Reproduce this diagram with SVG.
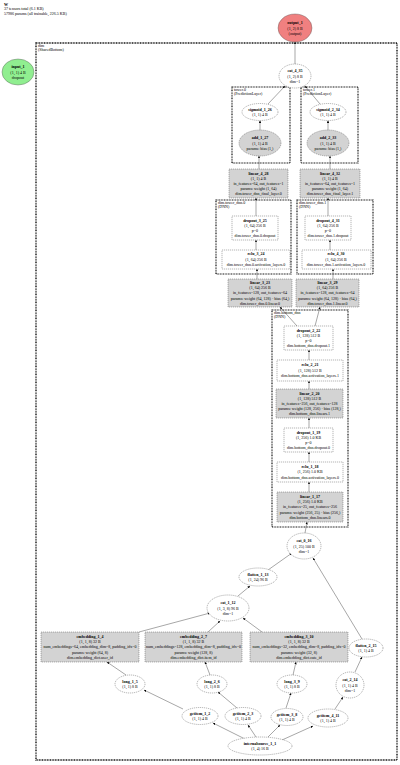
<svg xmlns="http://www.w3.org/2000/svg" width="400" height="765" viewBox="0 0 400 765">
<defs>
<marker id="ah" viewBox="0 0 4 4" refX="4" refY="2" markerWidth="2.4" markerHeight="2.4" markerUnits="userSpaceOnUse" orient="auto"><path d="M0,0 L4,2 L0,4 z" fill="#000"/></marker>
<style>
text{font-family:"Liberation Serif","Times New Roman",serif;font-size:4px;fill:#000}
.m{text-anchor:middle}
.b{font-weight:bold}
.e{fill:#fff;stroke:#444;stroke-width:0.4;stroke-dasharray:1.2,0.8}
.g{fill:#d3d3d3;stroke:#444;stroke-width:0.4;stroke-dasharray:1.2,0.8}
.d{fill:#fff;stroke:#444;stroke-width:0.4;stroke-dasharray:1.2,0.8}
.c{fill:none;stroke:#000;stroke-width:1.1;stroke-dasharray:0.9,0.7}
.co{fill:none;stroke:#000;stroke-width:1.3;stroke-dasharray:0.9,0.7}
#edges line{stroke:#000;stroke-width:0.35;marker-end:url(#ah)}
</style>
</defs>
<rect width="400" height="765" fill="#fff"/>
<g id="header">
<text x="4" y="5.5" class="b">W</text>
<text x="4" y="10">37 tensors total (6.1 KB)</text>
<text x="4" y="14.5">57986 params (all trainable, 226.5 KB)</text>
</g>
<g id="clusters">
<rect class="co" x="36" y="43" width="361" height="717"/>
<text x="38" y="47">dim</text><text x="38" y="51">(SharedBottom)</text>
<rect class="c" x="232" y="87" width="58" height="76"/>
<text x="234" y="91">tower.0</text><text x="234" y="95">(PredictionLayer)</text>
<rect class="c" x="301" y="87" width="57" height="76"/>
<text x="303" y="91">tower.1</text><text x="303" y="95">(PredictionLayer)</text>
<rect class="c" x="216" y="200" width="75" height="74"/>
<text x="218" y="204">dim.tower_dnn.0</text><text x="218" y="208">(DNN)</text>
<rect class="c" x="297" y="200" width="76" height="74"/>
<text x="299" y="204">dim.tower_dnn.1</text><text x="299" y="208">(DNN)</text>
<rect class="c" x="272" y="310" width="76" height="217"/>
<text x="274" y="314">dim.bottom_dnn</text><text x="274" y="318">(DNN)</text>
</g>
<g id="edges">
<line x1="295" y1="64" x2="295" y2="42"/>
<line x1="268" y1="104" x2="285" y2="86"/>
<line x1="320" y1="104" x2="305" y2="86"/>
<line x1="260" y1="130" x2="260" y2="120.5"/>
<line x1="328" y1="130" x2="328" y2="120.5"/>
<line x1="259" y1="169" x2="259" y2="156"/>
<line x1="330" y1="169" x2="330" y2="156"/>
<line x1="256" y1="216" x2="256" y2="198"/>
<line x1="328" y1="216" x2="328" y2="198"/>
<line x1="256" y1="250" x2="256" y2="240"/>
<line x1="330" y1="250" x2="330" y2="240"/>
<line x1="257" y1="279" x2="257" y2="269"/>
<line x1="333" y1="279" x2="333" y2="269"/>
<line x1="297" y1="326" x2="280" y2="307"/>
<line x1="315" y1="326" x2="320" y2="307"/>
<line x1="309" y1="360" x2="309" y2="350"/>
<line x1="309" y1="389" x2="309" y2="381"/>
<line x1="309" y1="428" x2="309" y2="418"/>
<line x1="309" y1="462" x2="309" y2="452"/>
<line x1="309" y1="492" x2="309" y2="482"/>
<line x1="305" y1="533" x2="307" y2="522"/>
<line x1="268" y1="570" x2="292" y2="553"/>
<line x1="362" y1="639" x2="313" y2="558"/>
<line x1="238" y1="596" x2="250" y2="586"/>
<line x1="139" y1="632" x2="210" y2="613"/>
<line x1="208" y1="632" x2="220" y2="621"/>
<line x1="262" y1="632" x2="243" y2="618"/>
<line x1="126" y1="675" x2="107" y2="662"/>
<line x1="210" y1="675" x2="205" y2="662"/>
<line x1="293" y1="675" x2="296" y2="662"/>
<line x1="183" y1="709" x2="144" y2="690"/>
<line x1="237" y1="708" x2="218" y2="692"/>
<line x1="286" y1="708" x2="291" y2="693"/>
<line x1="335" y1="709" x2="343" y2="697"/>
<line x1="355" y1="672" x2="362" y2="657"/>
<line x1="245" y1="739" x2="213" y2="723"/>
<line x1="256" y1="737" x2="248" y2="725"/>
<line x1="268" y1="737" x2="280" y2="725"/>
<line x1="282" y1="740" x2="313" y2="726"/>
</g>
<g id="input_1">
<ellipse cx="18" cy="72" rx="16" ry="13" fill="#90ee90" stroke="#555" stroke-width="0.4"/>
<text class="m b" x="18" y="68">input_1</text><text class="m" x="18" y="73.5">(1, 1) 4 B</text><text class="m" x="18" y="79">dropout</text>
</g>
<g id="output_1">
<ellipse cx="295" cy="28" rx="17" ry="14" fill="#f08080" stroke="#555" stroke-width="0.4"/>
<text class="m b" x="295" y="24">output_1</text><text class="m" x="295" y="29.5">(1, 2) 8 B</text><text class="m" x="295" y="35">(output)</text>
</g>
<g id="cat_4_35">
<ellipse class="e" cx="295" cy="76" rx="16" ry="12"/>
<text class="m b" x="295" y="72">cat_4_35</text><text class="m" x="295" y="77.5">(1, 2) 8 B</text><text class="m" x="295" y="83">dim=1</text>
</g>
<g id="sigmoid_1_26">
<ellipse class="e" cx="260" cy="112" rx="18" ry="8.5"/>
<text class="m b" x="260" y="110.7">sigmoid_1_26</text><text class="m" x="260" y="116.2">(1, 1) 4 B</text>
</g>
<g id="sigmoid_2_34">
<ellipse class="e" cx="328" cy="112" rx="18" ry="8.5"/>
<text class="m b" x="328" y="110.7">sigmoid_2_34</text><text class="m" x="328" y="116.2">(1, 1) 4 B</text>
</g>
<g id="add_1_27">
<ellipse class="g" cx="260" cy="143" rx="21" ry="13"/>
<text class="m b" x="260" y="139">add_1_27</text><text class="m" x="260" y="144.5">(1, 1) 4 B</text><text class="m" x="260" y="150">params: bias (1,)</text>
</g>
<g id="add_2_33">
<ellipse class="g" cx="328" cy="143" rx="21" ry="13"/>
<text class="m b" x="328" y="139">add_2_33</text><text class="m" x="328" y="144.5">(1, 1) 4 B</text><text class="m" x="328" y="150">params: bias (1,)</text>
</g>
<g id="linear_4_28">
<rect class="g" x="229" y="169" width="59" height="29"/>
<text class="m b" x="258.5" y="174.5">linear_4_28</text><text class="m" x="258.5" y="179.7">(1, 1) 4 B</text><text class="m" x="258.5" y="184.9">in_features=64, out_features=1</text><text class="m" x="258.5" y="190.1">params: weight (1, 64)</text><text class="m" x="258.5" y="195.3">dim.tower_dnn_final_layer.0</text>
</g>
<g id="linear_4_32">
<rect class="g" x="300" y="169" width="60" height="29"/>
<text class="m b" x="330" y="174.5">linear_4_32</text><text class="m" x="330" y="179.7">(1, 1) 4 B</text><text class="m" x="330" y="184.9">in_features=64, out_features=1</text><text class="m" x="330" y="190.1">params: weight (1, 64)</text><text class="m" x="330" y="195.3">dim.tower_dnn_final_layer.1</text>
</g>
<g id="dropout_3_25">
<rect class="d" x="232" y="216" width="46" height="24"/>
<text class="m b" x="255" y="221.9">dropout_3_25</text><text class="m" x="255" y="226.9">(1, 64) 256 B</text><text class="m" x="255" y="231.9">p=0</text><text class="m" x="255" y="236.9">dim.tower_dnn.0.dropout</text>
</g>
<g id="dropout_4_31">
<rect class="d" x="305" y="216" width="46" height="24"/>
<text class="m b" x="328" y="221.9">dropout_4_31</text><text class="m" x="328" y="226.9">(1, 64) 256 B</text><text class="m" x="328" y="231.9">p=0</text><text class="m" x="328" y="236.9">dim.tower_dnn.1.dropout</text>
</g>
<g id="relu_3_24">
<rect class="d" x="222" y="250" width="68" height="19"/>
<text class="m b" x="256" y="255.4">relu_3_24</text><text class="m" x="256" y="260.9">(1, 64) 256 B</text><text class="m" x="256" y="266.4">dim.tower_dnn.0.activation_layers.0</text>
</g>
<g id="relu_4_30">
<rect class="d" x="302" y="250" width="69" height="19"/>
<text class="m b" x="336" y="255.4">relu_4_30</text><text class="m" x="336" y="260.9">(1, 64) 256 B</text><text class="m" x="336" y="266.4">dim.tower_dnn.1.activation_layers.0</text>
</g>
<g id="linear_3_23">
<rect class="g" x="228" y="279" width="64" height="28"/>
<text class="m b" x="260" y="284">linear_3_23</text><text class="m" x="260" y="289.2">(1, 64) 256 B</text><text class="m" x="260" y="294.4">in_features=128, out_features=64</text><text class="m" x="260" y="299.6">params: weight (64, 128) · bias (64,)</text><text class="m" x="260" y="304.8">dim.tower_dnn.0.linear.0</text>
</g>
<g id="linear_3_29">
<rect class="g" x="296" y="279" width="63" height="28"/>
<text class="m b" x="327.5" y="284">linear_3_29</text><text class="m" x="327.5" y="289.2">(1, 64) 256 B</text><text class="m" x="327.5" y="294.4">in_features=128, out_features=64</text><text class="m" x="327.5" y="299.6">params: weight (64, 128) · bias (64,)</text><text class="m" x="327.5" y="304.8">dim.tower_dnn.1.linear.0</text>
</g>
<g id="dropout_2_22">
<rect class="d" x="284" y="326" width="49" height="24"/>
<text class="m b" x="308.5" y="331.9">dropout_2_22</text><text class="m" x="308.5" y="336.9">(1, 128) 512 B</text><text class="m" x="308.5" y="341.9">p=0</text><text class="m" x="308.5" y="346.9">dim.bottom_dnn.dropout.1</text>
</g>
<g id="relu_2_21">
<rect class="d" x="277" y="360" width="66" height="21"/>
<text class="m b" x="310" y="366.4">relu_2_21</text><text class="m" x="310" y="371.9">(1, 128) 512 B</text><text class="m" x="310" y="377.4">dim.bottom_dnn.activation_layers.1</text>
</g>
<g id="linear_2_20">
<rect class="g" x="276" y="389" width="67" height="29"/>
<text class="m b" x="309.5" y="394.5">linear_2_20</text><text class="m" x="309.5" y="399.7">(1, 128) 512 B</text><text class="m" x="309.5" y="404.9">in_features=256, out_features=128</text><text class="m" x="309.5" y="410.1">params: weight (128, 256) · bias (128,)</text><text class="m" x="309.5" y="415.3">dim.bottom_dnn.linears.1</text>
</g>
<g id="dropout_1_19">
<rect class="d" x="284" y="428" width="49" height="24"/>
<text class="m b" x="308.5" y="433.9">dropout_1_19</text><text class="m" x="308.5" y="438.9">(1, 256) 1.0 KB</text><text class="m" x="308.5" y="443.9">p=0</text><text class="m" x="308.5" y="448.9">dim.bottom_dnn.dropout.0</text>
</g>
<g id="relu_1_18">
<rect class="d" x="277" y="462" width="66" height="20"/>
<text class="m b" x="310" y="467.9">relu_1_18</text><text class="m" x="310" y="473.4">(1, 256) 1.0 KB</text><text class="m" x="310" y="478.9">dim.bottom_dnn.activation_layers.0</text>
</g>
<g id="linear_1_17">
<rect class="g" x="277" y="492" width="66" height="30"/>
<text class="m b" x="310" y="498">linear_1_17</text><text class="m" x="310" y="503.2">(1, 256) 1.0 KB</text><text class="m" x="310" y="508.4">in_features=25, out_features=256</text><text class="m" x="310" y="513.6">params: weight (256, 25) · bias (256,)</text><text class="m" x="310" y="518.8">dim.bottom_dnn.linears.0</text>
</g>
<g id="cat_0_16">
<ellipse class="e" cx="304" cy="546" rx="17" ry="13"/>
<text class="m b" x="304" y="542">cat_0_16</text><text class="m" x="304" y="547.5">(1, 25) 100 B</text><text class="m" x="304" y="553">dim=1</text>
</g>
<g id="flatten_1_13">
<ellipse class="e" cx="258" cy="577" rx="19" ry="9"/>
<text class="m b" x="258" y="575.7">flatten_1_13</text><text class="m" x="258" y="581.2">(1, 24) 96 B</text>
</g>
<g id="cat_1_12">
<ellipse class="e" cx="228" cy="608" rx="21" ry="13"/>
<text class="m b" x="228" y="604">cat_1_12</text><text class="m" x="228" y="609.5">(1, 3, 8) 96 B</text><text class="m" x="228" y="615">dim=1</text>
</g>
<g id="flatten_2_15">
<ellipse class="e" cx="366" cy="648" rx="17" ry="9"/>
<text class="m b" x="366" y="646.7">flatten_2_15</text><text class="m" x="366" y="652.2">(1, 1) 4 B</text>
</g>
<g id="cat_2_14">
<ellipse class="e" cx="350" cy="685" rx="14" ry="13"/>
<text class="m b" x="350" y="681">cat_2_14</text><text class="m" x="350" y="686.5">(1, 1) 4 B</text><text class="m" x="350" y="692">dim=1</text>
</g>
<g id="embedding_1_4">
<rect class="g" x="41" y="632" width="98" height="30"/>
<text class="m b" x="90" y="638">embedding_1_4</text><text class="m" x="90" y="643.2">(1, 1, 8) 32 B</text><text class="m" x="90" y="648.4">num_embeddings=64, embedding_dim=8, padding_idx=0</text><text class="m" x="90" y="653.6">params: weight (64, 8)</text><text class="m" x="90" y="658.8">dim.embedding_dict.user_id</text>
</g>
<g id="embedding_2_7">
<rect class="g" x="145" y="632" width="97" height="30"/>
<text class="m b" x="193.5" y="638">embedding_2_7</text><text class="m" x="193.5" y="643.2">(1, 1, 8) 32 B</text><text class="m" x="193.5" y="648.4">num_embeddings=128, embedding_dim=8, padding_idx=0</text><text class="m" x="193.5" y="653.6">params: weight (128, 8)</text><text class="m" x="193.5" y="658.8">dim.embedding_dict.item_id</text>
</g>
<g id="embedding_3_10">
<rect class="g" x="250" y="632" width="98" height="30"/>
<text class="m b" x="299" y="638">embedding_3_10</text><text class="m" x="299" y="643.2">(1, 1, 8) 32 B</text><text class="m" x="299" y="648.4">num_embeddings=32, embedding_dim=8, padding_idx=0</text><text class="m" x="299" y="653.6">params: weight (32, 8)</text><text class="m" x="299" y="658.8">dim.embedding_dict.cate_id</text>
</g>
<g id="long_1_5">
<ellipse class="e" cx="130" cy="684" rx="15" ry="9"/>
<text class="m b" x="130" y="682.7">long_1_5</text><text class="m" x="130" y="688.2">(1, 1) 8 B</text>
</g>
<g id="long_2_6">
<ellipse class="e" cx="212" cy="684" rx="15" ry="9"/>
<text class="m b" x="212" y="682.7">long_2_6</text><text class="m" x="212" y="688.2">(1, 1) 8 B</text>
</g>
<g id="long_3_9">
<ellipse class="e" cx="292" cy="684" rx="15" ry="9"/>
<text class="m b" x="292" y="682.7">long_3_9</text><text class="m" x="292" y="688.2">(1, 1) 8 B</text>
</g>
<g id="getitem_1_2">
<ellipse class="e" cx="200" cy="716" rx="18" ry="8.5"/>
<text class="m b" x="200" y="714.7">getitem_1_2</text><text class="m" x="200" y="720.2">(1, 1) 4 B</text>
</g>
<g id="getitem_2_3">
<ellipse class="e" cx="243" cy="716" rx="18" ry="8.5"/>
<text class="m b" x="243" y="714.7">getitem_2_3</text><text class="m" x="243" y="720.2">(1, 1) 4 B</text>
</g>
<g id="getitem_3_8">
<ellipse class="e" cx="287" cy="717" rx="16" ry="8.5"/>
<text class="m b" x="287" y="715.7">getitem_3_8</text><text class="m" x="287" y="721.2">(1, 1) 4 B</text>
</g>
<g id="getitem_4_11">
<ellipse class="e" cx="328" cy="718" rx="20" ry="9"/>
<text class="m b" x="328" y="716.7">getitem_4_11</text><text class="m" x="328" y="722.2">(1, 1) 4 B</text>
</g>
<g id="internalsource_1_1">
<ellipse class="e" cx="260" cy="746" rx="32" ry="9"/>
<text class="m b" x="260" y="744.7">internalsource_1_1</text><text class="m" x="260" y="750.2">(1, 4) 16 B</text>
</g>
</svg>
